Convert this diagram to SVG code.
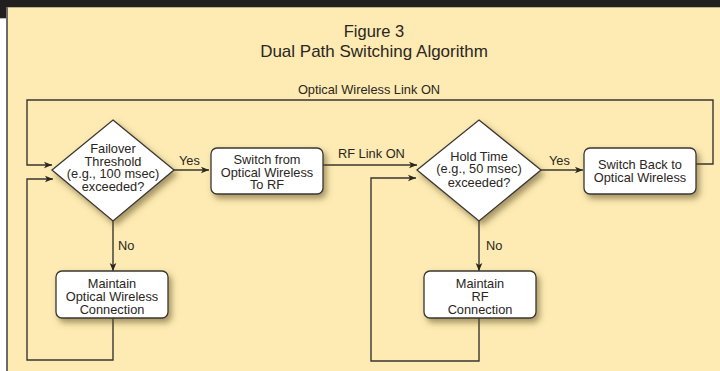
<svg xmlns="http://www.w3.org/2000/svg" width="720" height="371" viewBox="0 0 720 371">
<defs>
<style>
.t{font-family:"Liberation Sans",Arial,sans-serif;fill:#2a2622;text-anchor:middle}
.n{font-size:12.8px}
.lbl{font-family:"Liberation Sans",Arial,sans-serif;fill:#2a2622;font-size:12.8px}
.box{fill:#ffffff;stroke:#3a3632;stroke-width:1.3}
.ln{fill:none;stroke:#3a3632;stroke-width:1.4}
</style>
<filter id="sh" x="-20%" y="-20%" width="150%" height="160%">
<feDropShadow dx="3" dy="4" stdDeviation="3" flood-color="#5a4a20" flood-opacity="0.55"/>
</filter>
<marker id="ah" viewBox="0 0 10 10" refX="10" refY="5" markerWidth="8" markerHeight="8" markerUnits="userSpaceOnUse" orient="auto">
<path d="M0,0.8 L10,5 L0,9.2 L2.5,5 Z" fill="#2a2622"/>
</marker>
</defs>
<rect x="0" y="0" width="720" height="371" fill="#fdebb3"/>
<rect x="0" y="0" width="720" height="7" fill="#221f20"/>
<line x1="7" y1="7.5" x2="720" y2="7.5" stroke="#bfb08a" stroke-width="1"/>
<rect x="0" y="7" width="6" height="11" fill="#221f20"/>
<rect x="0" y="18" width="6" height="353" fill="#ffffff"/>
<line x1="0" y1="18.5" x2="6" y2="18.5" stroke="#bbbbbb" stroke-width="1"/>
<line x1="7" y1="7" x2="7" y2="371" stroke="#6e6a64" stroke-width="2"/>

<g id="title">
<text class="t" x="374" y="37" font-size="16.5">Figure 3</text>
<text class="t" x="374" y="57" font-size="17">Dual Path Switching Algorithm</text>
</g>

<g id="connectors">
<polyline class="ln" points="696,164 713,164 713,100 27,100 27,165 52,165" marker-end="url(#ah)"/>
<polyline class="ln" points="113,318 113,360 27,360 27,179 53,179" marker-end="url(#ah)"/>
<line class="ln" x1="174" y1="170" x2="209" y2="170" marker-end="url(#ah)"/>
<line class="ln" x1="323" y1="165" x2="417" y2="165" marker-end="url(#ah)"/>
<polyline class="ln" points="479,318 479,361 371,361 371,178 416,178" marker-end="url(#ah)"/>
<line class="ln" x1="541" y1="170" x2="583" y2="170" marker-end="url(#ah)"/>
<line class="ln" x1="113" y1="221" x2="113" y2="271" marker-end="url(#ah)"/>
<line class="ln" x1="479" y1="221" x2="479" y2="271" marker-end="url(#ah)"/>
<text class="lbl" x="369" y="94" text-anchor="middle" font-size="13.6">Optical Wireless Link ON</text>
<text class="lbl" x="338" y="158">RF Link ON</text>
<text class="lbl" x="179" y="165">Yes</text>
<text class="lbl" x="549" y="165">Yes</text>
<text class="lbl" x="118" y="250">No</text>
<text class="lbl" x="486" y="250">No</text>
</g>

<g id="failover">
<polygon class="box" filter="url(#sh)" points="113,120 174,170 113,221 52,170"/>
<text class="t n" x="113" y="153">Failover</text>
<text class="t n" x="113" y="165.7">Threshold</text>
<text class="t n" x="113" y="178.3">(e.g., 100 msec)</text>
<text class="t n" x="113" y="191">exceeded?</text>
</g>

<g id="switchRF">
<rect class="box" filter="url(#sh)" x="211" y="148" width="112" height="46" rx="6"/>
<text class="t n" x="267" y="164">Switch from</text>
<text class="t n" x="267" y="176.7">Optical Wireless</text>
<text class="t n" x="267" y="189.3">To RF</text>
</g>

<g id="holdtime">
<polygon class="box" filter="url(#sh)" points="479,120 541,170 479,221 417,170"/>
<text class="t n" x="479" y="160.7">Hold Time</text>
<text class="t n" x="479" y="173.3">(e.g., 50 msec)</text>
<text class="t n" x="479" y="186.7">exceeded?</text>
</g>

<g id="switchBack">
<rect class="box" filter="url(#sh)" x="584" y="148" width="112" height="46" rx="6"/>
<text class="t n" x="640" y="169.3">Switch Back to</text>
<text class="t n" x="640" y="182">Optical Wireless</text>
</g>

<g id="maintainOW">
<rect class="box" filter="url(#sh)" x="56" y="271" width="112" height="47" rx="6"/>
<text class="t n" x="112" y="288.3">Maintain</text>
<text class="t n" x="112" y="301.3">Optical Wireless</text>
<text class="t n" x="112" y="314">Connection</text>
</g>

<g id="maintainRF">
<rect class="box" filter="url(#sh)" x="424" y="271" width="112" height="47" rx="6"/>
<text class="t n" x="480" y="288.3">Maintain</text>
<text class="t n" x="480" y="301.3">RF</text>
<text class="t n" x="480" y="314">Connection</text>
</g>
</svg>
